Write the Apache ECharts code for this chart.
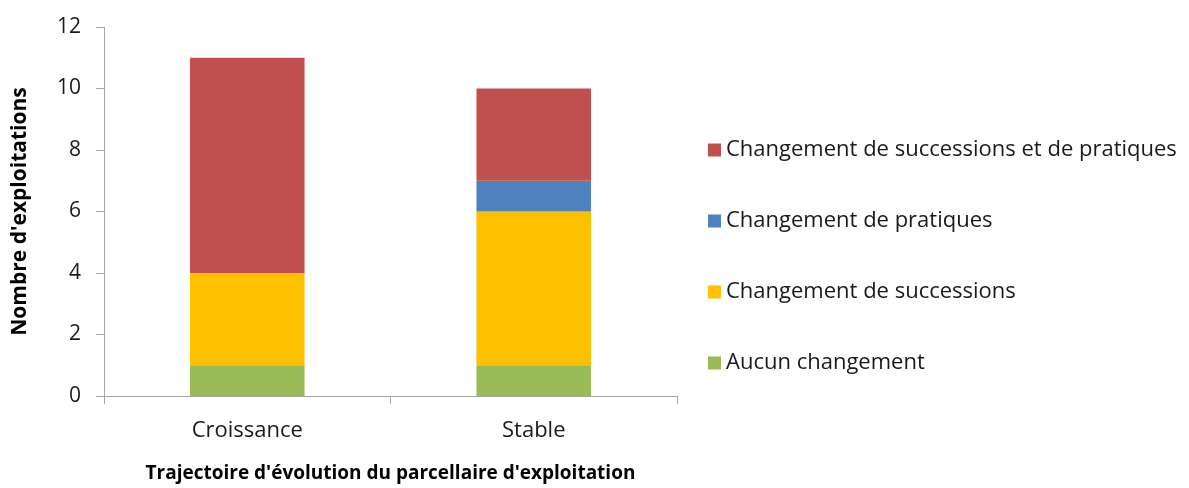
<!DOCTYPE html>
<html>
<head>
<meta charset="utf-8">
<script src="https://cdn.jsdelivr.net/npm/echarts@6/dist/echarts.min.js"></script>
<style>
	html, body { margin: 0; padding: 0; background: #fff; }
	#chart { width: 1189px; height: 488px; }
</style>
</head>
<body>
<div id="chart"></div>
<script>
// catégories (axe x)
var categories = ['Croissance', 'Stable'];
// séries empilées, de bas en haut
var seriesNames = ['Aucun changement', 'Changement de successions', 'Changement de pratiques', 'Changement de successions et de pratiques'];
var aucunChangement = [1, 1];
var changementSuccessions = [3, 5];
var changementPratiques = [0, 1];
var changementSuccPratiques = [7, 3];
var seriesColors = ['#9BBB59', '#FFC000', '#4F81BD', '#C0504D'];

var seriesData = [aucunChangement, changementSuccessions, changementPratiques, changementSuccPratiques];

var myChart = echarts.init(document.getElementById('chart'));
var series = [];
for (var i = 0; i < seriesNames.length; i++) {
	series.push({
		name: seriesNames[i],
		type: 'bar',
		stack: 'total',
		barWidth: '40%',
		itemStyle: { color: seriesColors[i] },
		data: seriesData[i]
	});
}

var option = {
	animation: false,
	textStyle: { fontFamily: 'Open Sans' },
	grid: {
		left: 104,
		right: 512,
		top: 27,
		bottom: 90
	},
	legend: {
		orient: 'vertical',
		left: 703,
		top: 134,
		itemWidth: 13,
		itemHeight: 13,
		itemGap: 49,
		icon: 'rect',
		data: seriesNames.slice().reverse(),
		textStyle: { fontSize: 22, color: '#1a1a1a', fontFamily: 'Open Sans' }
	},
	xAxis: {
		type: 'category',
		data: categories,
		name: "Trajectoire d'évolution du parcellaire d'exploitation",
		nameLocation: 'middle',
		nameGap: 68,
		nameTextStyle: { fontSize: 19, fontWeight: 'bold', color: '#000' },
		axisLine: { lineStyle: { color: '#a6a6a6', width: 1 } },
		axisTick: { show: true, length: 8, lineStyle: { color: '#a6a6a6' } },
		axisLabel: { fontSize: 22, color: '#1a1a1a', margin: 24 }
	},
	yAxis: {
		type: 'value',
		min: 0,
		max: 12,
		interval: 2,
		name: "Nombre d'exploitations",
		nameLocation: 'middle',
		nameGap: 73,
		nameTextStyle: { fontSize: 21, fontWeight: 'bold', color: '#000' },
		splitLine: { show: false },
		axisLine: { show: true, lineStyle: { color: '#a6a6a6', width: 1 } },
		axisTick: { show: true, length: 8, lineStyle: { color: '#a6a6a6' } },
		axisLabel: { fontSize: 21, color: '#1a1a1a', margin: 23 }
	},
	series: series
};
myChart.setOption(option);
</script>
</body>
</html>
